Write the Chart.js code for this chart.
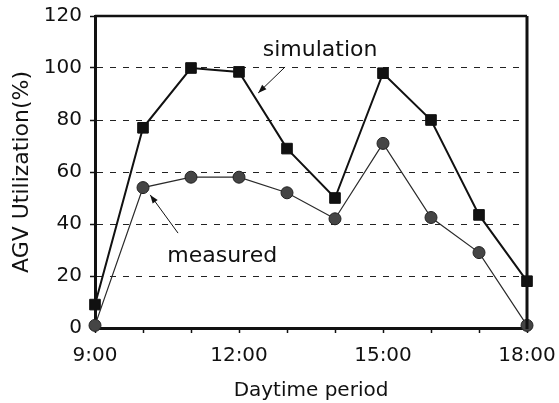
<!DOCTYPE html>
<html>
<head>
<meta charset="utf-8">
<script src="https://cdn.jsdelivr.net/npm/chart.js@4.4.0/dist/chart.umd.min.js"></script>
<style>
  html, body { margin: 0; padding: 0; background: #fff; }
  #wrap { width: 559px; height: 403px; position: relative; }
</style>
</head>
<body>
<div id="wrap"><canvas id="chart"></canvas></div>
<script>
// heures de la journée (axe x) et valeurs
const hours = [9, 10, 11, 12, 13, 14, 15, 16, 17, 18];
const simulation = [9, 77, 100, 98.5, 69, 50, 98, 80, 43.5, 18];
const measured = [1, 54, 58, 58, 52, 42, 71, 42.5, 29, 1];
const xLabelHours = [9, 12, 15, 18];
const yLabelValues = [0, 20, 40, 60, 80, 100, 120];
const gridValues = [20, 40, 60, 80, 100];

// notes sur le graphique, en unités de données
const notes = [
    { text: 'simulation', x: 13.69, y: 106.9, from: [12.96, 100.4], to: [12.40, 90.4] },
    { text: 'measured', x: 11.65, y: 27.7, from: [10.73, 36.5], to: [10.15, 51.2] },
];

const FONT = 'DejaVu Sans';
const INK = '#111';

const toPoints = vals => hours.map((h, i) => ({ x: h, y: vals[i] }));

// pas de marge automatique pour les étiquettes : la mise en page suit layout.padding
const noPad = s => {
    s.paddingTop = 0; s.paddingBottom = 0;
    s.paddingLeft = 0; s.paddingRight = 0;
};

// cadre haut / droite + annotations avec flèches
const extras = {
    id: 'extras',
    afterDatasetsDraw(chart) {
        const { ctx, chartArea: a, scales: { x, y } } = chart;
        ctx.save();
        ctx.strokeStyle = INK;
        ctx.lineWidth = 2.5;
        ctx.beginPath();
        ctx.moveTo(a.left, a.top);
        ctx.lineTo(a.right, a.top);
        ctx.stroke();
        ctx.lineWidth = 3;
        ctx.beginPath();
        ctx.moveTo(a.right, a.top);
        ctx.lineTo(a.right, a.bottom + 1);
        ctx.stroke();

        ctx.font = `22px "${FONT}"`;
        ctx.fillStyle = INK;
        ctx.textAlign = 'center';
        ctx.textBaseline = 'middle';
        notes.forEach(n => {
            ctx.fillText(n.text, x.getPixelForValue(n.x), y.getPixelForValue(n.y));
            const x1 = x.getPixelForValue(n.from[0]), y1 = y.getPixelForValue(n.from[1]);
            const x2 = x.getPixelForValue(n.to[0]), y2 = y.getPixelForValue(n.to[1]);
            ctx.lineWidth = 1;
            ctx.beginPath();
            ctx.moveTo(x1, y1);
            ctx.lineTo(x2, y2);
            ctx.stroke();
            const ang = Math.atan2(y2 - y1, x2 - x1);
            const len = 9, w = 0.35;
            ctx.beginPath();
            ctx.moveTo(x2, y2);
            ctx.lineTo(x2 - len * Math.cos(ang - w), y2 - len * Math.sin(ang - w));
            ctx.lineTo(x2 - len * Math.cos(ang + w), y2 - len * Math.sin(ang + w));
            ctx.closePath();
            ctx.fill();
        });
        ctx.restore();
    },
};

new Chart(document.getElementById('chart'), {
    type: 'line',
    data: {
        datasets: [{
            label: 'measured',
            data: toPoints(measured),
            borderColor: '#2a2a2a',
            borderWidth: 1.2,
            pointStyle: 'circle',
            pointRadius: 6,
            pointBackgroundColor: '#454545',
            pointBorderColor: '#222',
            pointBorderWidth: 1,
            clip: false,
        }, {
            label: 'simulation',
            data: toPoints(simulation),
            borderColor: INK,
            borderWidth: 2,
            pointStyle: 'rect',
            pointRadius: 7.5,
            pointBackgroundColor: INK,
            pointBorderColor: INK,
            pointBorderWidth: 1,
            clip: false,
        }],
    },
    options: {
        responsive: true,
        maintainAspectRatio: false,
        animation: false,
        events: [],
        layout: { padding: { top: 16, right: 32, bottom: 0, left: 0 } },
        plugins: { legend: { display: false }, tooltip: { enabled: false } },
        scales: {
            x: {
                type: 'linear',
                min: 9,
                max: 18,
                afterFit: s => { s.height = 75; noPad(s); },
                afterBuildTicks: s => { s.ticks = hours.map(v => ({ value: v })); },
                ticks: {
                    autoSkip: false,
                    maxRotation: 0,
                    padding: 11,
                    color: INK,
                    font: { family: FONT, size: 20 },
                    callback: v => xLabelHours.includes(v) ? v + ':00' : '',
                },
                grid: { drawOnChartArea: false, tickLength: 5, tickColor: INK, tickWidth: 1.5 },
                border: { display: true, color: INK, width: 3 },
                title: {
                    display: true,
                    text: 'Daytime period',
                    color: INK,
                    font: { family: FONT, size: 20 },
                    padding: { top: 0, bottom: 0 },
                },
            },
            y: {
                min: 0,
                max: 120,
                afterFit: s => { s.width = 95; noPad(s); },
                ticks: {
                    stepSize: 10,
                    padding: 8,
                    color: INK,
                    font: { family: FONT, size: 20 },
                    callback: v => yLabelValues.includes(v) ? String(v) : '',
                },
                grid: {
                    color: c => gridValues.includes(c.tick && c.tick.value) ? '#222' : 'transparent',
                    lineWidth: 1,
                    tickLength: 5,
                    tickColor: INK,
                    tickWidth: 1.5,
                    tickBorderDash: [],
                },
                border: { display: true, color: INK, width: 3, dash: [6, 7] },
                title: {
                    display: true,
                    text: 'AGV Utilization(%)',
                    color: INK,
                    font: { family: FONT, size: 22 },
                    padding: { top: 9, bottom: 0 },
                },
            },
        },
    },
    plugins: [extras],
});
</script>
</body>
</html>
